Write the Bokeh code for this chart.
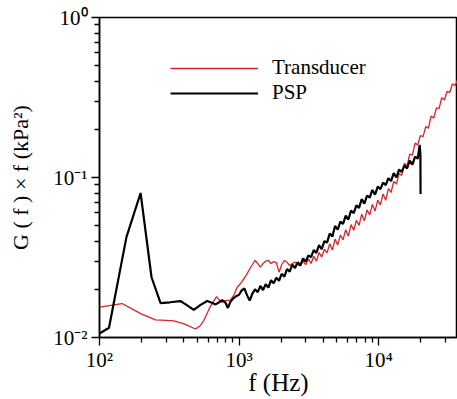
from bokeh.plotting import figure
from bokeh.models import FixedTicker, Legend, LegendItem
from bokeh.embed import file_html
from bokeh.resources import INLINE

# ---------------- data ----------------
psp_freq = [100, 117, 156, 197, 236, 274, 320, 380, 420, 474, 530, 591, 640, 679, 720, 757, 800, 832, 870, 919, 960,
            1000, 1045, 1092, 1141, 1192, 1246, 1302, 1361, 1422, 1486,
            1553, 1623, 1696, 1772, 1852, 1935, 2022, 2113, 2208, 2308,
            2412, 2520, 2634, 2752, 2876, 3005, 3141, 3282, 3430, 3584,
            3745, 3914, 4090, 4274, 4466, 4667, 4877, 5097, 5326, 5566,
            5816, 6078, 6352, 6637, 6936, 7248, 7574, 7915, 8271, 8644,
            9033, 9439, 9864, 10308, 10772, 11256, 11763, 12292, 12845, 13423,
            14028, 14659, 15319, 16008, 16728, 17481, 18268, 19090,
            19700, 19949, 20000]
psp_psd = [0.0106, 0.0115, 0.0424, 0.080, 0.0238, 0.0164, 0.0166, 0.0169, 0.0160, 0.0149, 0.0160, 0.0169, 0.0165,
           0.0161, 0.0166, 0.0171, 0.0165, 0.0153, 0.0168, 0.0177, 0.0182,
           0.0185, 0.0197, 0.0203, 0.0184, 0.0170, 0.0188, 0.0200, 0.0192, 0.0210, 0.0198,
           0.0215, 0.0205, 0.0228, 0.0218, 0.0236, 0.0226, 0.0250, 0.0240, 0.0268, 0.0258,
           0.0285, 0.0272, 0.0296, 0.0282, 0.0312, 0.0298, 0.0326, 0.0318, 0.0352, 0.0338,
           0.0378, 0.0356, 0.0400, 0.0392, 0.0446, 0.0428, 0.0498, 0.0472, 0.0530, 0.0512,
           0.0578, 0.0546, 0.0622, 0.0598, 0.0670, 0.0646, 0.0732, 0.0686, 0.0772, 0.0748,
           0.0836, 0.0782, 0.0878, 0.0846, 0.0930, 0.0896, 0.0990, 0.0950, 0.1065, 0.1000,
           0.1120, 0.1082, 0.1190, 0.1140, 0.1275, 0.1205, 0.1350, 0.1310,
           0.1600, 0.1400, 0.0790]

trans_freq = [100, 145, 197, 252, 300, 341, 400, 487, 525, 560, 620, 690, 720, 757, 800, 869, 920, 970,
              1000, 1045, 1092, 1141, 1192, 1246, 1302, 1361, 1422, 1486,
              1553, 1623, 1696, 1772, 1852, 1935, 2022, 2113, 2208, 2308,
              2412, 2520, 2634, 2752, 2876, 3005, 3141, 3282, 3430, 3584,
              3745, 3914, 4090, 4274, 4466, 4667, 4877, 5097, 5326, 5566,
              5816, 6078, 6352, 6637, 6936, 7248, 7574, 7915, 8271, 8644,
              9033, 9439, 9864, 10308, 10772, 11256, 11763, 12292, 12845, 13423,
              14028, 14659, 15319, 16008, 16728, 17481, 18268, 19090,
              19949, 20847, 21785, 22765, 23790, 24860, 25979, 27148, 28370, 29646,
              30981, 32375, 33831, 35354, 36945]
trans_psd = [0.0155, 0.0163, 0.0141, 0.0129, 0.0128, 0.0127, 0.0122, 0.0113, 0.0118, 0.0128, 0.0155, 0.0180,
             0.0172, 0.0166, 0.0170, 0.0171, 0.0185, 0.0206,
             0.0212, 0.0222, 0.0236, 0.0250, 0.0268, 0.0285, 0.0303, 0.0290, 0.0275, 0.0290,
             0.0300, 0.0303, 0.0290, 0.0298, 0.0294, 0.0256, 0.0285, 0.0303, 0.0295, 0.0282,
             0.0290, 0.0296, 0.0285, 0.0280, 0.0300, 0.0285, 0.0310, 0.0290, 0.0322, 0.0300,
             0.0340, 0.0318, 0.0356, 0.0338, 0.0385, 0.0352, 0.0412, 0.0378, 0.0436, 0.0408,
             0.0472, 0.0430, 0.0508, 0.0468, 0.0540, 0.0502, 0.0590, 0.0536, 0.0628, 0.0584,
             0.0680, 0.0616, 0.0722, 0.0674, 0.0790, 0.0720, 0.0852, 0.0806, 0.0945, 0.0910,
             0.1060, 0.1030, 0.1230, 0.1180, 0.1400, 0.1380, 0.1640, 0.1600,
             0.1830, 0.1800, 0.2080, 0.2030, 0.2420, 0.2350, 0.2720, 0.2700, 0.3150, 0.3050,
             0.3450, 0.3400, 0.3850, 0.3750, 0.4100]

series_labels = ["Transducer", "PSP"]

x_major = [100, 1000, 10000]
x_minor = [200, 300, 400, 500, 600, 700, 800, 900,
           2000, 3000, 4000, 5000, 6000, 7000, 8000, 9000,
           20000, 30000]
x_tick_labels = ["10\u00b2", "10\u00b3", "10\u2074"]
y_major = [0.01, 0.1, 1.0]
y_minor = [0.02, 0.03, 0.04, 0.05, 0.06, 0.07, 0.08, 0.09,
           0.2, 0.3, 0.4, 0.5, 0.6, 0.7, 0.8, 0.9]
y_tick_labels = ["10\u207b\u00b2", "10\u207b\u00b9", "10\u2070"]

x_limits = (100, 36800)
y_limits = (0.01, 1.0)

x_title = "f (Hz)"
y_title = "G ( f ) \u00d7 f (kPa\u00b2)"

# ---------------- figure ----------------
FONT = "Liberation Serif"

p = figure(width=457, height=399, x_axis_type="log", y_axis_type="log",
           x_range=x_limits, y_range=y_limits,
           output_backend="svg", toolbar_location=None,
           min_border_left=99, min_border_right=0, min_border_top=17, min_border_bottom=62)

p.xgrid.visible = False
p.ygrid.visible = False
p.background_fill_color = "white"
p.border_fill_color = "white"
p.outline_line_color = "black"
p.outline_line_width = 1.5

r_trans = p.line(trans_freq, trans_psd, line_color="#d9232a", line_width=1.3)
r_psp = p.line(psp_freq, psp_psd, line_color="black", line_width=2.2)

p.xaxis.ticker = FixedTicker(ticks=x_major, minor_ticks=x_minor)
p.yaxis.ticker = FixedTicker(ticks=y_major, minor_ticks=y_minor)
p.xaxis.major_label_overrides = {float(v): t for v, t in zip(x_major, x_tick_labels)}
p.yaxis.major_label_overrides = {float(v): t for v, t in zip(y_major, y_tick_labels)}

for ax in (p.xaxis[0], p.yaxis[0]):
    ax.axis_line_color = "black"
    ax.axis_line_width = 1.5
    ax.major_tick_line_color = "black"
    ax.minor_tick_line_color = "black"
    ax.major_tick_line_width = 1.3
    ax.minor_tick_line_width = 1.3
    ax.major_tick_in = 0
    ax.major_tick_out = 8
    ax.minor_tick_in = 0
    ax.minor_tick_out = 5
    ax.major_label_text_font = FONT
    ax.major_label_text_font_size = "21px"
    ax.major_label_text_color = "black"
    ax.axis_label_text_font = FONT
    ax.axis_label_text_font_style = "normal"
    ax.axis_label_text_color = "black"

p.xaxis.axis_label = x_title
p.yaxis.axis_label = y_title
p.xaxis.axis_label_text_font_size = "25px"
p.yaxis.axis_label_text_font_size = "22px"
p.xaxis.major_label_standoff = 2
p.xaxis.axis_label_standoff = -6
p.yaxis.major_label_standoff = 4
p.yaxis.axis_label_standoff = 17

legend = Legend(items=[LegendItem(label=series_labels[0], renderers=[r_trans]),
                       LegendItem(label=series_labels[1], renderers=[r_psp])],
                location=(71, 232), glyph_width=88, glyph_height=20, label_height=20,
                spacing=0, padding=0, margin=0, label_standoff=14,
                border_line_color=None, background_fill_alpha=0,
                label_text_font=FONT, label_text_font_size="21px", label_text_color="black")
p.add_layout(legend)

open("out.html", "w").write(file_html(p, INLINE))
